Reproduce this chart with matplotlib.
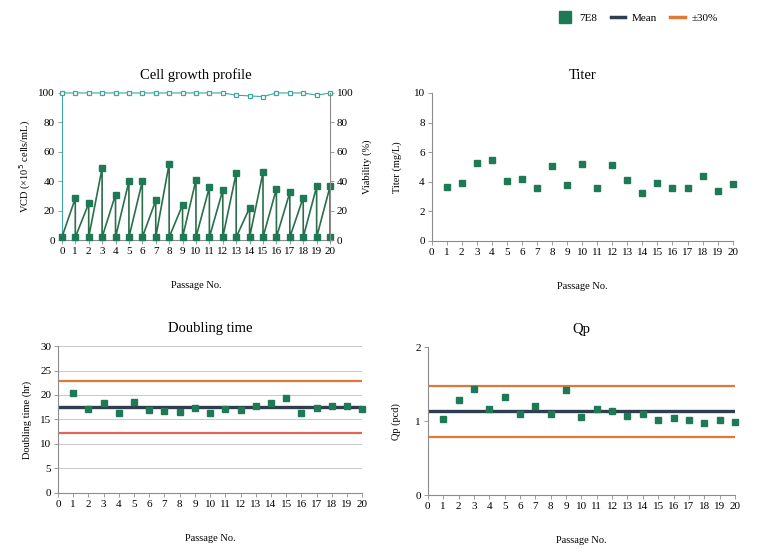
import matplotlib
matplotlib.use("Agg")
import matplotlib.pyplot as plt
from matplotlib.lines import Line2D
import numpy as np

plt.rcParams['font.family'] = ['Liberation Serif', 'DejaVu Serif']

passages = list(range(0, 21))
vcd_seed = [2.0] * 21
vcd_peak = [None, 28.5, 25, 49, 31, 40, 40, 27, 52, 24, 41, 36, 34, 45.5, 22, 46, 35, 32.5, 29, 36.5, 36.5]
viability = [100, 100, 100, 100, 100, 100, 100, 100, 100, 100, 100, 100, 100, 98.5, 98, 97.5, 100, 100, 100, 98.5, 100]

pass_1_20 = list(range(1, 21))
titer = [3.65, 3.92, 5.27, 5.45, 4.07, 4.2, 3.58, 5.05, 3.76, 5.18, 3.54, 5.16, 4.14, 3.2, 3.9, 3.6, 3.54, 4.37, 3.38, 3.83]
doubling = [20.5, 17.1, 18.4, 16.4, 18.6, 16.9, 16.7, 16.5, 17.4, 16.3, 17.2, 17.0, 17.8, 18.4, 19.4, 16.3, 17.4, 17.7, 17.7, 17.1]
qp = [1.03, 1.29, 1.44, 1.16, 1.32, 1.09, 1.20, 1.09, 1.42, 1.06, 1.16, 1.14, 1.07, 1.10, 1.02, 1.04, 1.02, 0.97, 1.01, 0.99]

GREEN = '#1d7a55'
LINE_GREEN = '#2a6e4c'
TEAL = '#3fa7a0'
NAVY = '#2f3e4e'
ORANGE = '#e0783a'
RED = '#e2655a'
GREY = '#8c8c8c'

fig = plt.figure(figsize=(7.64, 5.6), dpi=100)

def style(ax):
    for s in ['top', 'right']:
        ax.spines[s].set_visible(False)
    for s in ['left', 'bottom']:
        ax.spines[s].set_color(GREY)
        ax.spines[s].set_linewidth(0.8)
    ax.tick_params(labelsize=8, length=3, width=0.6, color=GREY, pad=2)
    ax.set_xlim(0, 20)
    ax.set_xticks(range(0, 21))

# Cell growth profile
ax1 = fig.add_axes([0.081, 0.571, 0.351, 0.263])
style(ax1)
xs, ys = [0], [vcd_seed[0]]
for p in range(1, 21):
    xs += [p, p]
    ys += [vcd_peak[p], vcd_seed[p]]
ax1.plot(xs, ys, '-', color=LINE_GREEN, lw=1.2, marker='s', ms=3.8,
         mfc=GREEN, mec=GREEN, zorder=3, clip_on=False)
ax1.set_ylim(0, 100)
ax1.set_yticks(range(0, 101, 20))
ax1.spines['left'].set_color(TEAL)
ax1.set_title('Cell growth profile', fontsize=10.5, pad=10)
ax1.set_xlabel('Passage No.', fontsize=7.5, labelpad=18)
ax1.set_ylabel('VCD (×10$^5$ cells/mL)', fontsize=7.5, labelpad=4)
ax1r = ax1.twinx()
ax1r.plot(passages, viability, '-', color=TEAL, lw=0.8, marker='s', ms=3.5,
          mfc='white', mec=TEAL, mew=0.9, clip_on=False)
ax1r.set_ylim(0, 100)
ax1r.set_yticks(range(0, 101, 20))
for s in ['top', 'left', 'bottom']:
    ax1r.spines[s].set_visible(False)
ax1r.spines['right'].set_color(GREY)
ax1r.tick_params(labelsize=8, length=3, width=0.6, color=GREY, pad=2)
ax1r.set_ylabel('Viability (%)', fontsize=7.5, labelpad=6)

# Titer
ax2 = fig.add_axes([0.565, 0.570, 0.394, 0.264])
style(ax2)
ax2.plot(pass_1_20, titer, 's', color=GREEN, ms=4.2, ls='none', clip_on=False)
ax2.set_ylim(0, 10)
ax2.set_yticks(range(0, 11, 2))
ax2.set_title('Titer', fontsize=10.5, pad=10)
ax2.set_xlabel('Passage No.', fontsize=7.5, labelpad=18)
ax2.set_ylabel('Titer (mg/L)', fontsize=7.5, labelpad=8)

# Doubling time
ax3 = fig.add_axes([0.076, 0.120, 0.398, 0.262])
style(ax3)
dmean = float(np.mean(doubling))
ax3.set_ylim(0, 30)
ax3.set_yticks(range(0, 31, 5))
ax3.yaxis.grid(True, color='#c8c8c8', lw=0.7)
ax3.set_axisbelow(True)
ax3.axhline(dmean * 1.3, color=ORANGE, lw=1.6)
ax3.axhline(dmean * 0.7, color=RED, lw=1.6)
ax3.axhline(dmean, color=NAVY, lw=2.4)
ax3.plot(pass_1_20, doubling, 's', color=GREEN, ms=4.2, ls='none', zorder=4, clip_on=False)
ax3.set_title('Doubling time', fontsize=10.5, pad=10)
ax3.set_xlabel('Passage No.', fontsize=7.5, labelpad=18)
ax3.set_ylabel('Doubling time (hr)', fontsize=7.5, labelpad=6)

# Qp
ax4 = fig.add_axes([0.560, 0.116, 0.402, 0.264])
style(ax4)
qmean = float(np.mean(qp))
ax4.set_ylim(0, 2)
ax4.set_yticks([0, 1, 2])
ax4.axhline(qmean * 1.3, color=ORANGE, lw=1.6)
ax4.axhline(qmean * 0.7, color=ORANGE, lw=1.6)
ax4.axhline(qmean, color=NAVY, lw=2.4)
ax4.plot(pass_1_20, qp, 's', color=GREEN, ms=4.2, ls='none', zorder=4, clip_on=False)
ax4.set_title('Qp', fontsize=10.5, pad=10)
ax4.set_xlabel('Passage No.', fontsize=7.5, labelpad=18)
ax4.set_ylabel('Qp (pcd)', fontsize=7.5, labelpad=10)

handles = [Line2D([], [], marker='s', color=GREEN, ls='none', ms=8),
           Line2D([], [], color=NAVY, lw=2.5),
           Line2D([], [], color=ORANGE, lw=2.5)]
fig.legend(handles, ['7E8', 'Mean', '±30%'], loc='center', ncol=3,
           bbox_to_anchor=(0.835, 0.967), frameon=False, fontsize=8,
           handlelength=1.3, columnspacing=1.2, handletextpad=0.6)

fig.savefig('out.png', dpi=100)
